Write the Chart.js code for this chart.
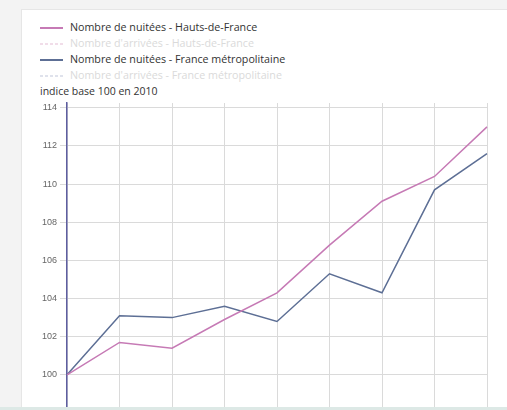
<!DOCTYPE html>
<html>
<head>
<meta charset="utf-8">
<script src="https://cdn.jsdelivr.net/npm/chart.js@4/dist/chart.umd.min.js"></script>
<style>
  html, body { margin:0; padding:0; width:507px; height:410px; overflow:hidden; background:#f3f3f3; }
  #card { position:absolute; left:21px; top:9px; width:490px; height:410px; background:#fff; border-left:1px solid #e6e6e6; border-top:1px solid #e6e6e6; }
  #bottomline { position:absolute; left:0; top:407px; width:507px; height:3px; background:#dde9e6; }
  #wrap { position:absolute; left:0; top:0; width:507px; height:441px; }
  .leg { position:absolute; left:40px; font-family:"Open Sans", sans-serif; font-size:10.7px; color:#333; white-space:nowrap; }
  .leg .sw { position:absolute; left:0; top:6px; width:23px; height:2px; }
  .leg span.t { position:absolute; left:30px; top:-1px; line-height:14px; }
  #ytitle { position:absolute; left:40px; top:84px; font-family:"Open Sans", sans-serif; font-size:10.5px; color:#333; white-space:nowrap; }
</style>
</head>
<body>
<div id="card"></div>
<div id="legend"></div>
<div id="ytitle">indice base 100 en 2010</div>
<div id="wrap"><canvas id="c" width="507" height="441"></canvas></div>
<div id="bottomline"></div>
<script>
const years = ['2010','2011','2012','2013','2014','2015','2016','2017','2018'];
const nuiteesHdF = [100, 101.7, 101.4, 102.9, 104.3, 106.8, 109.1, 110.4, 113.0];
const nuiteesFrance = [100, 103.1, 103.0, 103.6, 102.8, 105.3, 104.3, 109.7, 111.6];
const yTicks = [98, 100, 102, 104, 106, 108, 110, 112, 114];
const legendLabels = [
  'Nombre de nuitées - Hauts-de-France',
  "Nombre d'arrivées - Hauts-de-France",
  'Nombre de nuitées - France métropolitaine',
  "Nombre d'arrivées - France métropolitaine"
];

const pink = '#c67ab5';
const blue = '#5d6f95';

const legendStyles = [
  {color: pink, dash: false, text: '#333'},
  {color: '#f1dde9', dash: true, text: '#dadada'},
  {color: blue, dash: false, text: '#333'},
  {color: '#dfe2ec', dash: true, text: '#dadada'}
];
const legEl = document.getElementById('legend');
legendLabels.forEach((lab, i) => {
  const d = document.createElement('div');
  d.className = 'leg';
  d.style.top = (21 + i * 16) + 'px';
  d.style.height = '14px';
  const sw = document.createElement('div');
  sw.className = 'sw';
  const c = legendStyles[i].color;
  if (legendStyles[i].dash) {
    sw.style.backgroundImage = 'repeating-linear-gradient(to right, ' + c + ' 0 3px, transparent 3px 5px)';
  } else {
    sw.style.background = c;
  }
  const t = document.createElement('span');
  t.className = 't';
  t.textContent = lab;
  t.style.color = legendStyles[i].text;
  d.appendChild(sw); d.appendChild(t);
  legEl.appendChild(d);
});

new Chart(document.getElementById('c'), {
  type: 'line',
  data: {
    labels: years,
    datasets: [
      { label: legendLabels[0], data: nuiteesHdF, borderColor: pink, backgroundColor: pink, borderWidth: 1.5, pointRadius: 0, tension: 0, fill: false },
      { label: legendLabels[2], data: nuiteesFrance, borderColor: blue, backgroundColor: blue, borderWidth: 1.5, pointRadius: 0, tension: 0, fill: false }
    ]
  },
  options: {
    responsive: false,
    animation: false,
    layout: { padding: { left: 0, right: 20, top: 103, bottom: 0 } },
    plugins: { legend: { display: false }, tooltip: { enabled: false }, title: { display: false } },
    scales: {
      x: {
        offset: false,
        grid: { color: '#dadada', lineWidth: 1, tickLength: 6, drawTicks: true },
        border: { display: false },
        ticks: { color: '#666', font: { family: 'Liberation Sans', size: 9 } },
        afterFit: (s) => { s.height = 28; }
      },
      y: {
        min: 98, max: 114.25,
        grid: { color: '#dadada', lineWidth: 1, tickLength: 7 },
        border: { display: true, color: '#5e5ea0', width: 1.5 },
        ticks: { padding: 3, color: '#666', font: { family: 'Liberation Sans', size: 9 } },
        afterBuildTicks: (s) => { s.ticks = yTicks.map(v => ({ value: v })); },
        afterFit: (s) => { s.width = 67; }
      }
    }
  }
});
</script>
</body>
</html>
